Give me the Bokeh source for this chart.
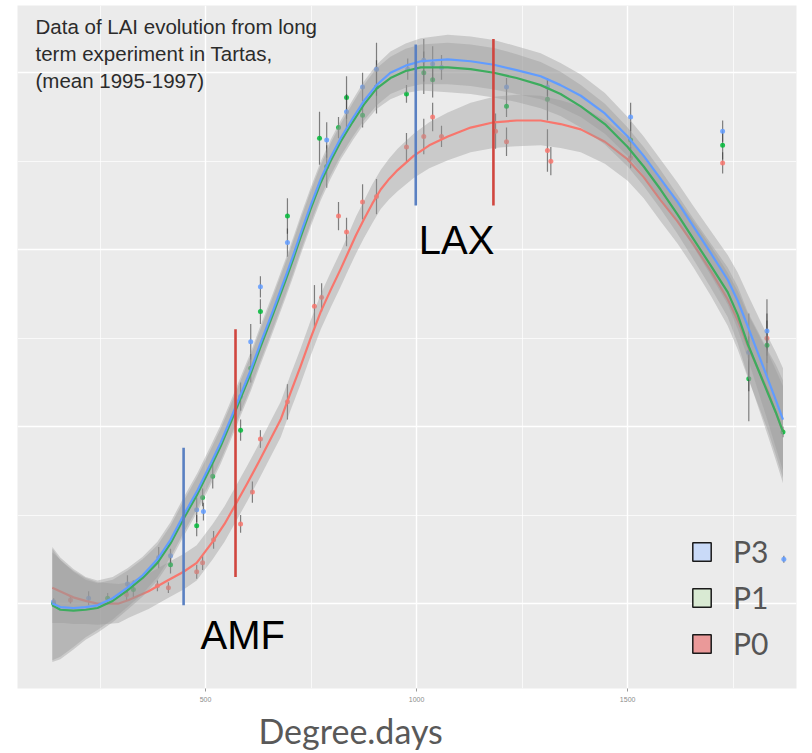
import numpy as np
import pandas as pd
from bokeh.plotting import figure
from bokeh.models import (ColumnDataSource, FixedTicker, Label, Legend, LegendItem,
                          Title)
from bokeh.embed import file_html
from bokeh.resources import INLINE

# ---- observed LAI (mean 1995-1997) per fertilisation treatment ----
p3_dd = [140, 223, 315, 389, 417, 479, 495, 583, 607, 630, 694, 787, 834, 872,
         905, 979, 1017, 1038, 1059, 1213, 1310, 1507, 1725, 1787, 1830, 1870]
p3_lai = [0.01, 0.03, 0.11, 0.26, 0.27, 0.53, 0.52, 1.17, 1.48, 1.79, 2.04, 2.62,
          2.78, 2.92, 3.02, 3.02, 3.07, 3.05, 3.03, 2.92, 2.92, 2.75, 2.67, 1.42,
          1.54, 0.25]
p3_sd = [0.02, 0.04, 0.05, 0.06, 0.04, 0.07, 0.05, 0.08, 0.10, 0.06, 0.08, 0.10,
         0.10, 0.08, 0.15, 0.06, 0.12, 0.10, 0.07, 0.05, 0.05, 0.08, 0.06, 0.22,
         0.18, 0.02]

p1_dd = [140, 268, 329, 417, 479, 493, 517, 583, 607, 630, 694, 770, 787, 815,
         834, 872, 905, 976, 1017, 1038, 1213, 1310, 1507, 1725, 1787, 1830, 1868]
p1_lai = [0.00, 0.03, 0.08, 0.22, 0.44, 0.60, 0.72, 0.98, 1.33, 1.65, 2.19, 2.63,
          2.47, 2.69, 2.86, 2.76, 2.92, 2.88, 3.00, 2.96, 2.81, 2.85, 2.62, 2.59,
          1.27, 1.46, 0.97]
p1_sd = [0.02, 0.03, 0.05, 0.05, 0.06, 0.05, 0.07, 0.06, 0.08, 0.07, 0.10, 0.15,
         0.12, 0.06, 0.12, 0.07, 0.15, 0.05, 0.12, 0.10, 0.06, 0.12, 0.10, 0.08,
         0.24, 0.18, 0.03]

p0_dd = [180, 313, 386, 412, 479, 493, 519, 583, 611, 630, 694, 758, 775, 815,
         834, 872, 905, 976, 1017, 1038, 1059, 1187, 1213, 1310, 1318, 1507, 1725,
         1830]
p0_lai = [0.02, 0.05, 0.10, 0.09, 0.18, 0.23, 0.36, 0.45, 0.63, 0.93, 1.14, 1.68,
          1.73, 2.19, 2.10, 2.27, 2.30, 2.58, 2.64, 2.75, 2.64, 2.67, 2.61, 2.56,
          2.50, 2.52, 2.49, 1.50]
p0_sd = [0.02, 0.03, 0.03, 0.03, 0.04, 0.04, 0.05, 0.05, 0.06, 0.05, 0.10, 0.12,
         0.08, 0.08, 0.08, 0.10, 0.10, 0.08, 0.10, 0.08, 0.06, 0.10, 0.08, 0.12,
         0.08, 0.06, 0.06, 0.10]

# ---- smoothed fits with their confidence half-widths ----
fit_dd = [137, 156, 187, 216, 244, 280, 315, 351, 386, 417, 448, 481, 512, 536,
          559, 583, 607, 630, 659, 690, 708, 725, 749, 773, 796, 820, 848, 875,
          905, 938, 974, 1010, 1074, 1128, 1183, 1237, 1294, 1341, 1389, 1446,
          1500, 1538, 1578, 1618, 1656, 1697, 1737, 1761, 1784, 1808, 1832, 1851,
          1868]
p3_fit = [0.00, -0.02, -0.025, -0.02, -0.01, 0.03, 0.09, 0.16, 0.25, 0.36, 0.50,
          0.64, 0.79, 0.91, 1.04, 1.18, 1.32, 1.47, 1.65, 1.85, 1.97, 2.09, 2.25,
          2.40, 2.52, 2.63, 2.74, 2.84, 2.93, 3.00, 3.04, 3.065, 3.075, 3.065,
          3.045, 3.015, 2.98, 2.93, 2.87, 2.77, 2.64, 2.53, 2.40, 2.27, 2.13, 1.98,
          1.83, 1.71, 1.57, 1.42, 1.27, 1.15, 1.04]
p1_fit = [-0.01, -0.035, -0.04, -0.035, -0.025, 0.015, 0.075, 0.145, 0.23, 0.34,
          0.48, 0.62, 0.77, 0.89, 1.02, 1.16, 1.30, 1.45, 1.63, 1.83, 1.95, 2.07,
          2.23, 2.38, 2.50, 2.61, 2.72, 2.82, 2.91, 2.97, 3.01, 3.03, 3.03, 3.02,
          3.00, 2.97, 2.93, 2.88, 2.81, 2.71, 2.58, 2.47, 2.34, 2.20, 2.06, 1.91,
          1.76, 1.63, 1.47, 1.33, 1.19, 1.08, 0.97]
p3_se = [0.32, 0.28, 0.22, 0.17, 0.14, 0.12, 0.11, 0.105, 0.10, 0.10, 0.10, 0.10,
         0.10, 0.10, 0.10, 0.10, 0.10, 0.10, 0.10, 0.10, 0.10, 0.10, 0.10, 0.10,
         0.10, 0.10, 0.105, 0.11, 0.115, 0.12, 0.125, 0.13, 0.14, 0.14, 0.14,
         0.135, 0.13, 0.125, 0.12, 0.115, 0.11, 0.11, 0.11, 0.11, 0.115, 0.125,
         0.14, 0.16, 0.18, 0.21, 0.24, 0.27, 0.29]
p1_se = p3_se

p0_fit_dd = [137, 164, 187, 216, 244, 294, 318, 365, 410, 448, 479, 517, 545, 571,
             599, 626, 652, 678, 701, 725, 749, 773, 796, 820, 837, 856, 875, 895,
             915, 935, 955, 993, 1030, 1074, 1128, 1183, 1237, 1294, 1341, 1389,
             1446, 1500, 1538, 1578, 1618, 1656, 1697, 1737, 1761, 1784, 1808, 1832,
             1851, 1868]
p0_fit = [0.09, 0.06, 0.035, 0.015, 0.00, 0.00, 0.02, 0.07, 0.13, 0.18, 0.23, 0.35,
          0.45, 0.56, 0.68, 0.80, 0.92, 1.04, 1.19, 1.34, 1.50, 1.65, 1.77, 1.89,
          1.98, 2.08, 2.17, 2.26, 2.34, 2.40, 2.45, 2.53, 2.59, 2.64, 2.69, 2.72,
          2.73, 2.73, 2.71, 2.68, 2.61, 2.51, 2.41, 2.28, 2.16, 2.03, 1.88, 1.72,
          1.60, 1.46, 1.33, 1.20, 1.08, 0.97]
p0_se = [0.20, 0.17, 0.15, 0.13, 0.12, 0.11, 0.10, 0.10, 0.10, 0.10, 0.10, 0.10,
         0.10, 0.10, 0.10, 0.10, 0.10, 0.10, 0.10, 0.10, 0.10, 0.10, 0.10, 0.10,
         0.10, 0.105, 0.105, 0.11, 0.11, 0.115, 0.12, 0.125, 0.13, 0.135, 0.14,
         0.145, 0.145, 0.14, 0.135, 0.13, 0.125, 0.12, 0.12, 0.12, 0.125, 0.13,
         0.14, 0.15, 0.165, 0.18, 0.20, 0.22, 0.24, 0.26]

# ---- phenological stages (AMF, LAX) per treatment ----
stage_dd = [448, 571, 998, 1182]
stage_lo = [-0.01, 0.15, 2.25, 2.25]
stage_hi = [0.88, 1.55, 3.16, 3.19]
stage_color = ["#5A80C2", "#D0463F", "#5A80C2", "#D0463F"]

treatments = ["P3", "P1", "P0"]
line_colors = {"P3": "#619CFF", "P1": "#00BA38", "P0": "#F8766D"}
key_fills = {"P3": "#C9DAF8", "P1": "#D9EAD3", "P0": "#EA9999"}

x_ticks = [500, 1000, 1500]
x_minor = [250, 750, 1250, 1750]
y_ticks = [0, 1, 2, 3]
y_minor = [0.5, 1.5, 2.5]

obs = {
    "P3": (p3_dd, p3_lai, p3_sd),
    "P1": (p1_dd, p1_lai, p1_sd),
    "P0": (p0_dd, p0_lai, p0_sd),
}
fits = {
    "P3": (fit_dd, p3_fit, p3_se),
    "P1": (fit_dd, p1_fit, p1_se),
    "P0": (p0_fit_dd, p0_fit, p0_se),
}

p = figure(width=812, height=753, x_range=(54.5, 1900), y_range=(-0.48, 3.38),
           output_backend="svg", toolbar_location=None,
           min_border_left=17, min_border_right=16, min_border_top=5,
           min_border_bottom=64)
p.background_fill_color = "#EBEBEB"
p.border_fill_color = "white"
p.outline_line_color = None

# axes: only the x axis carries labels
p.xaxis.ticker = FixedTicker(ticks=x_ticks, minor_ticks=x_minor)
p.yaxis.ticker = FixedTicker(ticks=y_ticks, minor_ticks=y_minor)
p.xaxis.axis_line_color = None
p.xaxis.major_tick_line_color = "#9A9A9A"
p.xaxis.major_tick_in = 0
p.xaxis.major_tick_out = 3
p.xaxis.minor_tick_line_color = None
p.xaxis.major_label_text_font_size = "7px"
p.xaxis.major_label_text_color = "#8C8C8C"
p.xaxis.major_label_standoff = 4
p.yaxis.visible = False

for g in (p.xgrid, p.ygrid):
    g.grid_line_color = "white"
    g.grid_line_width = 1.4
    g.minor_grid_line_color = "white"
    g.minor_grid_line_width = 0.7

# observations: error bars then points
for t in ["P0", "P1", "P3"]:
    dd, lai, sd = obs[t]
    df = pd.DataFrame({"dd": dd, "lai": lai, "sd": sd})
    df["lo"] = df["lai"] - df["sd"]
    df["hi"] = df["lai"] + df["sd"]
    src = ColumnDataSource(df)
    p.segment(x0="dd", y0="lo", x1="dd", y1="hi", source=src,
              line_color="#333333", line_alpha=0.6, line_width=1.2)
    p.scatter(x="dd", y="lai", source=src, size=5, fill_color=line_colors[t],
              line_color=None, fill_alpha=0.85)

# smoothed fits with confidence ribbons
for t in ["P0", "P1", "P3"]:
    dd, fit, se = fits[t]
    fd = pd.DataFrame({"dd": dd, "fit": fit, "se": se})
    fd["lo"] = fd["fit"] - fd["se"]
    fd["hi"] = fd["fit"] + fd["se"]
    src = ColumnDataSource(fd)
    p.varea(x="dd", y1="lo", y2="hi", source=src, fill_color="#999999",
            fill_alpha=0.4)
    p.line(x="dd", y="fit", source=src, line_color=line_colors[t], line_width=2.2,
           line_join="round")

# stage markers
p.segment(x0=stage_dd, y0=stage_lo, x1=stage_dd, y1=stage_hi,
          line_color=stage_color, line_width=2.6)

p.add_layout(Label(x=1005, y=1.93, text="LAX", text_font="Liberation Sans",
                   text_font_size="40px", text_color="black"))
p.add_layout(Label(x=488, y=-0.30, text="AMF", text_font="Liberation Sans",
                   text_font_size="40px", text_color="black"))

# caption in the upper left corner
caption = ["Data of LAI evolution from  long", "term experiment in Tartas,",
           "(mean 1995-1997)"]
for i, line in enumerate(caption):
    p.add_layout(Label(x=18, y=651 - 27 * i, x_units="screen", y_units="screen",
                       text=line, text_font="Liberation Sans",
                       text_font_size="20.5px", text_color="#2B2B2B"))

# x axis title
p.add_layout(Title(text="Degree.days", align="left", offset=241, standoff=6,
                   text_font="Lato", text_font_size="34px",
                   text_font_style="normal", text_color="#595959"), "below")

# treatment key (key-only renderers, nothing drawn in the panel)
items = []
for t in treatments:
    r = p.quad(left=[np.nan], right=[np.nan], top=[np.nan], bottom=[np.nan],
               fill_color=key_fills[t], line_color="#1A1A1A", line_width=1.5)
    items.append(LegendItem(label=t, renderers=[r]))
legend = Legend(items=items, location=(673, 27), glyph_width=23, glyph_height=23,
                label_text_font="Lato", label_text_font_size="30px",
                label_text_color="#555555", label_standoff=20, spacing=10,
                padding=0, margin=0, background_fill_alpha=0,
                border_line_color=None)
p.add_layout(legend)

open("out.html", "w").write(file_html(p, INLINE))
